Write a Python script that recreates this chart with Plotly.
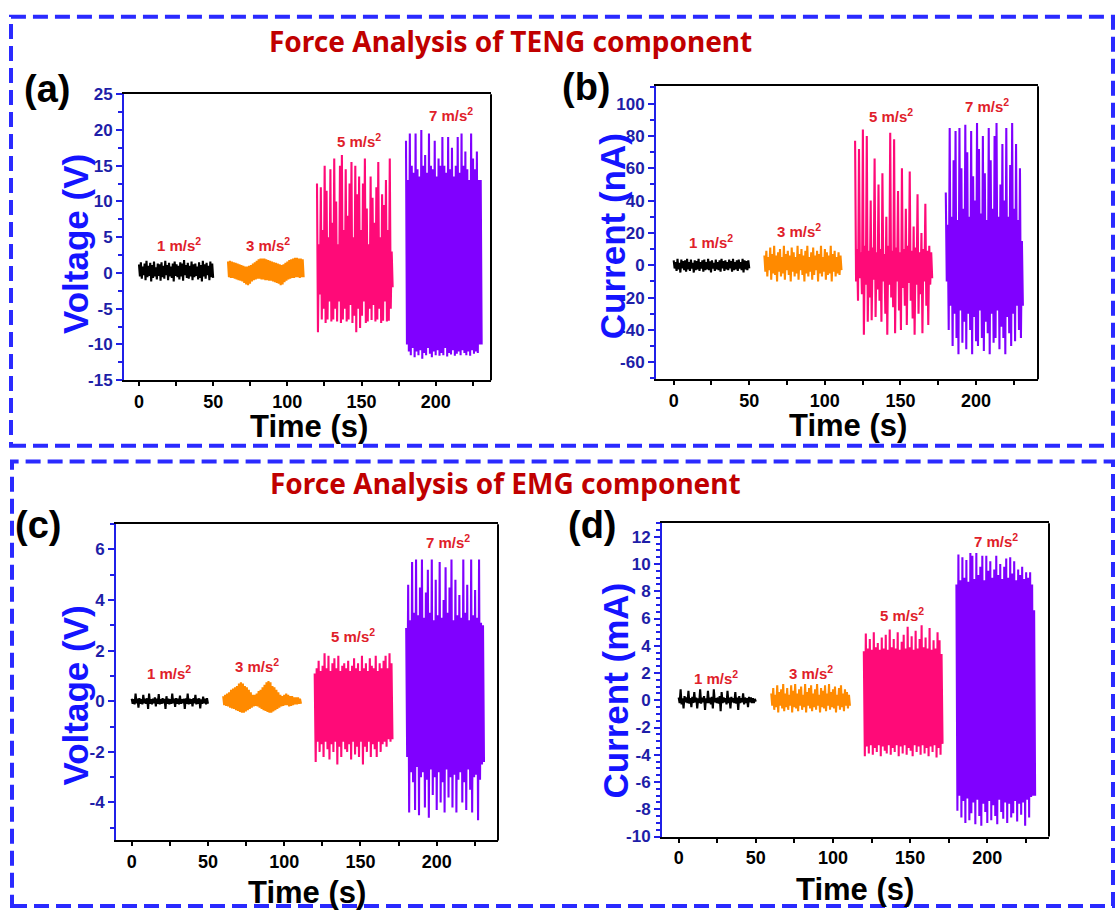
import numpy as np
import plotly.graph_objects as go

W, H = 1116, 919

# ---------------- data ----------------
seg_t0 = [0, 60, 120, 180]
seg_t1 = [50, 111, 171, 231]
seg_colors = ["#000000", "#ff8a00", "#ff0a78", "#8000ff"]
seg_labels = ["1 m/s<sup>2</sup>", "3 m/s<sup>2</sup>", "5 m/s<sup>2</sup>", "7 m/s<sup>2</sup>"]
x_ticks = [0, 50, 100, 150, 200]
x_minor = [25, 75, 125, 175, 225]
a_yticks = [-15, -10, -5, 0, 5, 10, 15, 20, 25]
b_yticks = [-60, -40, -20, 0, 20, 40, 60, 80, 100]
c_yticks = [-4, -2, 0, 2, 4, 6]
d_yticks = [-10, -8, -6, -4, -2, 0, 2, 4, 6, 8, 10, 12]

# (a) TENG voltage (V)
a1_hi = [1.2,1.5,0.9,1.3,1.7,1.0,1.4,1.1,1.6,0.8,1.3,1.2,1.5,1.0,1.7,1.1,1.4,0.9,1.3,1.6,1.2,1.0,1.5,1.3,1.8,1.1,1.4,1.0,1.6,1.2,1.3,0.9,1.5,1.1,1.7,1.2,1.4,1.0,1.6,1.3]
a1_lo = [-0.5,-0.8,-0.3,-1.0,-0.6,-0.4,-1.2,-0.7,-0.5,-0.9,-0.4,-1.1,-0.6,-0.8,-0.3,-1.0,-0.5,-0.7,-1.2,-0.4,-0.6,-0.9,-0.5,-1.1,-0.3,-0.7,-0.8,-0.5,-1.0,-0.6,-0.4,-0.9,-0.7,-1.2,-0.5,-0.8,-0.3,-1.0,-0.6,-0.7]
a3_hi = [1.6,1.7,1.6,1.5,1.4,1.3,1.2,1.1,1.0,0.9,0.9,1.0,1.1,1.3,1.5,1.7,1.9,2.0,2.0,2.0,1.9,1.8,1.7,1.6,1.5,1.4,1.3,1.2,1.1,1.2,1.4,1.6,1.8,1.9,2.0,2.1,2.1,2.0,2.0,1.9]
a3_lo = [-0.6,-0.7,-0.7,-0.8,-0.9,-1.0,-1.1,-1.2,-1.4,-1.6,-1.7,-1.5,-1.2,-1.0,-0.9,-0.8,-0.8,-0.9,-0.9,-1.0,-1.0,-1.1,-1.1,-1.2,-1.3,-1.4,-1.5,-1.7,-1.6,-1.3,-1.1,-0.9,-0.8,-0.7,-0.7,-0.6,-0.6,-0.7,-0.6,-0.6]
a5_hi = [12.5,4,12,6,15,11.5,5,14.5,7,16,10,4,15,16.5,6,14.5,8,12.5,15.5,5,15,11,13.5,6,12.5,16,9,4,13.5,10.5,7,12,15.5,5,11,9.5,13,6,16,3]
a5_lo = [-8.3,-3,-6.5,-5,-7,-6.5,-4,-6.8,-6.5,-5,-6.8,-4,-7,-6.5,-5,-6.8,-6.5,-4.5,-7,-6,-8.3,-5,-7.7,-6,-4,-7,-6.8,-5,-6.6,-4.5,-6.8,-6.5,-5,-7,-6.7,-4,-6.8,-6.7,-5,-2]
a7_hi = [18.5,13,19.5,15,14,19.5,14.5,13.5,20,15,16.5,14,19.5,15,14.5,18.5,13.5,16,15,19,15,14,19,14.5,17.5,13.5,15,19,14,19.5,15,17,14.5,13,19.5,16,14.5,17,13,13]
a7_lo = [-10,-11,-11.5,-10.5,-11.8,-11,-11.5,-10.8,-12,-11.2,-11.5,-10.5,-11.3,-11.8,-11,-11.5,-10.8,-11.6,-11.2,-11.5,-10.5,-11.7,-11.2,-11.4,-10.8,-11.6,-11.3,-11,-11.5,-10.8,-11.2,-11.5,-11,-11.6,-10.8,-11.3,-11,-11.2,-10,-10]

# (b) TENG current (nA)
b1_hi = [3,2,4,1.5,3.5,2.5,3,4,2,3.5,1.5,3,2.5,4,2,3,3.5,2,4,2.5,3,1.5,3.5,2,3,4,2.5,3,2,3.5,2.5,4,2,3,3.5,2,4,3,2.5,3]
b1_lo = [-2,-3.5,-2.5,-4.5,-2,-3,-4,-2.5,-3.5,-2,-4.5,-3,-2.5,-3.5,-2,-4,-3,-2.5,-3,-4.5,-2,-3.5,-2.5,-3,-4,-2,-3.5,-2.5,-3,-2,-4,-3,-2.5,-3.5,-2,-3,-4.5,-2.5,-3,-2]
b3_hi = [6,9,5,11,7,12,6,8,10,5,12,7,9,6,11,8,5,12,7,10,6,9,12,5,8,11,6,9,7,12,5,10,8,6,12,7,9,5,8,6]
b3_lo = [-4,-7,-3,-9,-5,-6,-10,-4,-7,-5,-9,-3,-6,-10,-4,-7,-5,-9,-3,-6,-10,-5,-7,-4,-9,-6,-3,-10,-5,-7,-4,-9,-6,-5,-10,-4,-7,-5,-6,-3]
b5_hi = [77,10,72,8,84,12,80,9,40,11,66,8,50,10,57,7,30,12,82,9,78,11,46,8,60,10,35,12,58,9,24,11,44,8,20,10,38,9,12,8]
b5_lo = [-10,-22,-8,-18,-43,-12,-35,-20,-34,-9,-32,-15,-22,-35,-10,-30,-43,-12,-20,-26,-42,-10,-28,-40,-14,-25,-37,-11,-22,-33,-43,-12,-30,-18,-42,-10,-25,-37,-12,-8]
b7_hi = [45,25,85,30,65,83,28,85,60,35,87,70,30,83,55,40,88,72,32,80,57,28,85,65,35,80,88,30,50,75,40,85,30,62,88,35,75,28,60,15]
b7_lo = [-10,-40,-25,-50,-30,-45,-55,-28,-48,-35,-52,-30,-40,-55,-32,-47,-50,-28,-45,-53,-35,-42,-55,-30,-48,-45,-28,-52,-38,-45,-55,-32,-42,-50,-30,-47,-25,-40,-45,-25]

# (c) EMG voltage (V)
c1_hi = [0.1,0.08,0.3,0.1,0.12,0.08,0.25,0.1,0.12,0.3,0.08,0.1,0.15,0.1,0.28,0.08,0.12,0.1,0.2,0.1,0.08,0.3,0.1,0.12,0.1,0.22,0.08,0.1,0.12,0.3,0.1,0.08,0.12,0.25,0.1,0.12,0.08,0.18,0.1,0.12]
c1_lo = [-0.1,-0.12,-0.08,-0.25,-0.1,-0.12,-0.08,-0.1,-0.3,-0.1,-0.12,-0.08,-0.2,-0.1,-0.12,-0.1,-0.08,-0.3,-0.1,-0.12,-0.1,-0.08,-0.22,-0.1,-0.12,-0.1,-0.08,-0.3,-0.1,-0.12,-0.1,-0.2,-0.08,-0.12,-0.1,-0.28,-0.1,-0.08,-0.12,-0.1]
c3_hi = [0.2,0.25,0.3,0.35,0.45,0.5,0.55,0.6,0.7,0.75,0.7,0.6,0.55,0.45,0.35,0.25,0.25,0.3,0.4,0.45,0.55,0.65,0.75,0.8,0.75,0.6,0.55,0.45,0.35,0.25,0.2,0.25,0.3,0.25,0.2,0.2,0.15,0.15,0.15,0.1]
c3_lo = [-0.15,-0.18,-0.2,-0.25,-0.28,-0.3,-0.35,-0.38,-0.42,-0.45,-0.45,-0.4,-0.35,-0.3,-0.25,-0.2,-0.18,-0.2,-0.25,-0.3,-0.35,-0.38,-0.42,-0.45,-0.45,-0.4,-0.35,-0.3,-0.25,-0.2,-0.18,-0.15,-0.15,-0.2,-0.18,-0.15,-0.12,-0.12,-0.1,-0.1]
c5_hi = [1.1,1.3,1.6,1.2,1.4,1.9,1.3,1.8,1.2,1.5,1.7,1.3,1.8,1.2,1.4,1.5,1.3,1.6,1.2,1.4,1.7,1.3,1.5,1.2,1.8,1.3,1.5,1.2,1.7,1.4,1.3,1.8,1.2,1.5,1.3,1.6,1.8,1.3,1.9,1.5]
c5_lo = [-2.4,-1.6,-2.0,-1.7,-2.2,-1.6,-1.9,-2.3,-1.7,-2.0,-1.6,-2.5,-1.8,-2.2,-1.6,-1.9,-2.0,-1.7,-2.3,-1.6,-2.1,-1.8,-2.2,-1.6,-2.5,-1.8,-2.0,-1.6,-2.2,-1.7,-1.9,-2.2,-1.6,-2.0,-1.7,-1.6,-1.8,-1.5,-1.6,-1.5]
c7_hi = [2.9,4.6,3.2,5.5,3.5,5.6,3.4,4.5,5.6,3.3,4.3,5.2,3.5,5.6,3.2,4.8,3.4,5.5,3.3,4.0,5.3,3.5,4.5,5.6,3.2,4.8,3.4,4.2,3.3,5.6,3.5,4.6,3.2,5.6,3.4,4.4,3.3,5.6,3.1,3.0]
c7_lo = [-2.2,-4.4,-2.8,-3.2,-4.3,-2.6,-4.5,-3.0,-2.8,-4.2,-3.1,-4.6,-2.7,-3.7,-3.0,-4.3,-2.8,-4.0,-3.2,-4.4,-2.7,-3.8,-3.0,-4.2,-2.9,-4.4,-3.1,-2.8,-4.0,-3.2,-4.3,-2.7,-3.5,-4.4,-3.0,-2.9,-4.7,-3.1,-2.5,-2.4]

# (d) EMG current (mA)
d1_hi = [0.2,0.8,0.15,0.3,0.2,0.7,0.15,0.25,0.6,0.2,0.15,0.8,0.2,0.3,0.15,0.7,0.2,0.25,0.8,0.15,0.2,0.3,0.6,0.2,0.15,0.7,0.2,0.25,0.15,0.6,0.2,0.3,0.15,0.5,0.2,0.15,0.25,0.2,0.15,0.1]
d1_lo = [-0.2,-0.3,-0.6,-0.15,-0.2,-0.25,-0.5,-0.2,-0.15,-0.6,-0.2,-0.25,-0.15,-0.7,-0.2,-0.2,-0.3,-0.6,-0.15,-0.2,-0.25,-0.8,-0.2,-0.15,-0.3,-0.2,-0.6,-0.15,-0.2,-0.25,-0.7,-0.2,-0.15,-0.3,-0.2,-0.5,-0.15,-0.2,-0.2,-0.1]
d3_hi = [0.5,0.9,0.4,1.1,0.6,0.8,1.2,0.5,0.9,0.4,1.1,0.7,1.2,0.5,0.8,1.0,0.4,1.2,0.6,0.9,1.1,0.5,0.8,1.2,0.4,0.9,0.7,1.1,0.5,1.2,0.6,0.8,1.0,0.4,0.9,1.1,0.5,0.8,0.6,0.4]
d3_lo = [-0.4,-0.7,-0.5,-0.9,-0.4,-0.6,-0.8,-0.5,-0.7,-0.4,-0.9,-0.5,-0.6,-0.8,-0.4,-0.7,-0.5,-0.9,-0.4,-0.6,-0.8,-0.5,-0.7,-0.4,-0.9,-0.5,-0.6,-0.8,-0.4,-0.7,-0.5,-0.6,-0.9,-0.4,-0.7,-0.5,-0.8,-0.4,-0.6,-0.4]
d5_hi = [3.6,4.9,3.8,4.5,3.7,5.0,3.9,4.2,3.7,4.6,3.8,4.8,3.7,5.2,3.9,4.5,3.8,5.0,3.7,4.3,4.8,3.8,5.4,3.9,4.7,3.7,5.1,3.8,4.5,5.5,3.9,4.6,3.8,5.3,3.7,4.4,3.8,5.0,4.4,3.4]
d5_lo = [-4.1,-3.4,-3.9,-3.3,-4.0,-3.5,-3.8,-3.3,-4.1,-3.4,-3.7,-3.9,-3.3,-4.0,-3.5,-3.8,-3.3,-4.1,-3.4,-3.9,-3.3,-4.0,-3.5,-3.7,-4.1,-3.3,-3.8,-3.4,-4.0,-3.3,-3.9,-3.5,-4.1,-3.4,-3.8,-3.3,-4.2,-3.5,-4.0,-3.2]
d7_hi = [8.5,10.7,8.8,10.5,9.0,10.3,8.7,10.8,10.6,8.9,10.8,9.2,9.8,10.6,8.8,10.6,9.5,10.2,9.0,9.6,10.6,9.2,10.0,8.9,9.8,10.4,9.0,10.5,9.3,10.2,8.8,9.6,9.2,9.8,8.9,9.4,9.0,9.4,8.5,6.6]
d7_lo = [-8.1,-7.0,-8.6,-7.4,-9.0,-7.2,-8.8,-8.3,-7.5,-9.1,-7.3,-8.5,-9.2,-7.6,-8.2,-9.0,-7.4,-8.8,-7.7,-8.5,-9.1,-7.3,-8.2,-8.7,-7.5,-9.0,-7.6,-8.6,-8.3,-7.4,-8.9,-7.6,-8.4,-7.5,-9.2,-7.3,-8.6,-7.1,-7.0,-7.0]

# label positions (data coords) for "x m/s2" annotations
a_lab_t = [27, 87, 148, 210]; a_lab_v = [4.0, 4.0, 18.5, 22.2]
b_lab_t = [25, 83, 144, 207]; b_lab_v = [14.5, 21.5, 92.5, 99]
c_lab_t = [24.5, 82, 145, 207.5]; c_lab_v = [1.12, 1.42, 2.58, 6.33]
d_lab_t = [24, 85.5, 144.7, 205.6]; d_lab_v = [1.64, 2.07, 6.3, 11.7]

# ---------------- layout geometry ----------------
def px_x(x): return x / W
def px_y(y): return 1 - y / H

panels = [
    dict(segs=[(a1_hi, a1_lo), (a3_hi, a3_lo), (a5_hi, a5_lo), (a7_hi, a7_lo)],
         xdom=(124, 491), ydom=(87, 379), xr=[-10.1, 237.3], yr=[-15, 25], yt=a_yticks, mdt=2.5,
         lab_t=a_lab_t, lab_v=a_lab_v, ytitle="Voltage (V)", ytx=75, yty=240, xtx=309, xty=426,
         letter="(a)", lx=47, ly=82),
    dict(segs=[(b1_hi, b1_lo), (b3_hi, b3_lo), (b5_hi, b5_lo), (b7_hi, b7_lo)],
         xdom=(656, 1038), ydom=(79, 378), xr=[-11.7, 241], yr=[-70.5, 110.7], yt=b_yticks, mdt=10,
         lab_t=b_lab_t, lab_v=b_lab_v, ytitle="Current (nA)", ytx=612, yty=232, xtx=848, xty=425,
         letter="(b)", lx=586, ly=80),
    dict(segs=[(c1_hi, c1_lo), (c3_hi, c3_lo), (c5_hi, c5_lo), (c7_hi, c7_lo)],
         xdom=(116, 498), ydom=(526, 849), xr=[-10.3, 240.2], yr=[-5.5, 7.0], yt=c_yticks, mdt=1,
         lab_t=c_lab_t, lab_v=c_lab_v, ytitle="Voltage (V)", ytx=76, yty=701, xtx=307, xty=902,
         letter="(c)", lx=38, ly=527),
    dict(segs=[(d1_hi, d1_lo), (d3_hi, d3_lo), (d5_hi, d5_lo), (d7_hi, d7_lo)],
         xdom=(662, 1049), ydom=(525, 845), xr=[-10.8, 240], yr=[-10, 13], yt=d_yticks, mdt=0.5,
         lab_t=d_lab_t, lab_v=d_lab_v, ytitle="Current (mA)", ytx=616, yty=696, xtx=855, xty=899,
         letter="(d)", lx=592, ly=527),
]

BLUE_LINE = "#2020e8"
BLUE_TITLE = "#1414ff"
BLUE_TICK = "#1e1ea8"
RED_LAB = "#e0202a"
BOX_BLUE = "#2a2aff"
FONT = "Liberation Sans"

fig = go.Figure()
annotations = []
shapes = []
layout_axes = {}

for i, p in enumerate(panels):
    n = "" if i == 0 else str(i + 1)
    xa, ya = "x" + n, "y" + n
    for k, (hi, lo) in enumerate(p["segs"]):
        yy = []
        for h, l in zip(hi, lo):
            yy += [h, l]
        xx = np.linspace(seg_t0[k], seg_t1[k], len(yy))
        fig.add_trace(go.Scatter(x=xx, y=yy, mode="lines", xaxis=xa, yaxis=ya,
                                 line=dict(color=seg_colors[k], width=2.1),
                                 showlegend=False, hoverinfo="skip"))
        annotations.append(dict(x=p["lab_t"][k], y=p["lab_v"][k], xref=xa, yref=ya,
                                text="<b>" + seg_labels[k] + "</b>", showarrow=False,
                                font=dict(family=FONT, size=15, color=RED_LAB)))
    layout_axes["xaxis" + n] = dict(
        domain=[px_x(p["xdom"][0]), px_x(p["xdom"][1])], range=p["xr"], anchor=ya,
        showline=True, linecolor="black", linewidth=2, mirror=True,
        ticks="outside", tickcolor="black", tickwidth=2, ticklen=4,
        tickmode="array", tickvals=x_ticks, ticktext=[str(v) for v in x_ticks],
        minor=dict(tickvals=x_minor, ticks="outside", ticklen=4,
                   tickcolor="black", tickwidth=2),
        tickfont=dict(family=FONT, size=18, color="black", weight="bold"),
        showgrid=False, zeroline=False)
    layout_axes["yaxis" + n] = dict(
        domain=[px_y(p["ydom"][1]), px_y(p["ydom"][0])], range=p["yr"], anchor=xa,
        showline=True, linecolor=BLUE_LINE, linewidth=2, mirror=False,
        ticks="outside", tickcolor=BLUE_LINE, tickwidth=2, ticklen=6,
        tickmode="array", tickvals=p["yt"], ticktext=[str(v) for v in p["yt"]],
        minor=dict(tickmode="linear", tick0=0, dtick=p["mdt"], ticks="outside", ticklen=4,
                   tickcolor=BLUE_LINE, tickwidth=2),
        tickfont=dict(family=FONT, size=17, color=BLUE_TICK, weight="bold"),
        showgrid=False, zeroline=False)
    shapes.append(dict(type="line", xref=xa + " domain", yref=ya + " domain",
                       x0=1, x1=1, y0=0, y1=1, line=dict(color="black", width=2)))
    annotations.append(dict(x=px_x(p["ytx"]), y=px_y(p["yty"]), xref="paper", yref="paper",
                            text="<b>" + p["ytitle"] + "</b>", textangle=-90, showarrow=False,
                            xanchor="center", yanchor="middle",
                            font=dict(family=FONT, size=35, color=BLUE_TITLE)))
    annotations.append(dict(x=px_x(p["xtx"]), y=px_y(p["xty"]), xref="paper", yref="paper",
                            text="<b>Time (s)</b>", showarrow=False,
                            xanchor="center", yanchor="middle",
                            font=dict(family=FONT, size=31, color="black")))
    annotations.append(dict(x=px_x(p["lx"]), y=px_y(p["ly"]), xref="paper", yref="paper",
                            text="<b>" + p["letter"] + "</b>", showarrow=False,
                            xanchor="center", yanchor="middle",
                            font=dict(family=FONT, size=38, color="black")))

# section titles
annotations.append(dict(x=px_x(510), y=px_y(33), xref="paper", yref="paper",
                        text="<b>Force Analysis of TENG component</b>", showarrow=False,
                        xanchor="center", yanchor="middle",
                        font=dict(family="Noto Sans", size=28, color="#c00000")))
annotations.append(dict(x=px_x(505), y=px_y(484), xref="paper", yref="paper",
                        text="<b>Force Analysis of EMG component</b>", showarrow=False,
                        xanchor="center", yanchor="middle",
                        font=dict(family="Noto Sans", size=28, color="#c00000")))

# dashed frames
for (x0, y0, x1, y1) in [(11, 8, 1113, 446), (12, 462, 1113, 916)]:
    shapes.append(dict(type="rect", xref="paper", yref="paper",
                       x0=px_x(x0), x1=px_x(x1), y0=px_y(y1), y1=px_y(y0),
                       line=dict(color=BOX_BLUE, width=4, dash="15px,7px"),
                       fillcolor="rgba(0,0,0,0)"))

fig.update_layout(width=W, height=H, margin=dict(l=0, r=0, t=0, b=0),
                  paper_bgcolor="white", plot_bgcolor="white",
                  annotations=annotations, shapes=shapes, **layout_axes)

fig.write_html("out.html")
